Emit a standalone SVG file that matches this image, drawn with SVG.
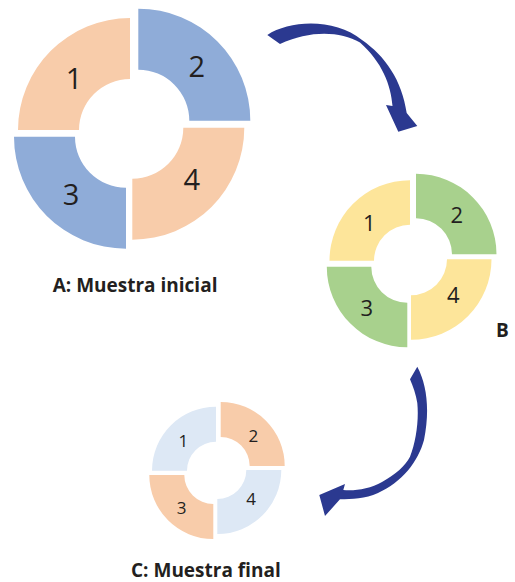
<svg xmlns="http://www.w3.org/2000/svg" width="515" height="582" viewBox="0 0 515 582">
<style>
.peach{fill:#F8CCAA}
.blue{fill:#8FACD8}
.yellow{fill:#FDE59A}
.green{fill:#A8D18D}
.lblue{fill:#DDE8F5}
.dig{font-family:"Open Sans","Noto Sans",sans-serif;font-weight:400;fill:#231F20;text-anchor:middle}
.dA{font-size:29px}
.dB{font-size:22px}
.dC{font-size:17px}
.lbl{font-family:"Open Sans","Noto Sans",sans-serif;font-weight:700;font-size:19px;fill:#231F20}
.arrow{fill:#2B3990}
</style>
<defs>
<path id="a1" d="M-112,0 A112,112 0 0 1 0,-112 L0,-51 A51,51 0 0 0 -51,0 Z"/>
<path id="a2" d="M0,-112 A112,112 0 0 1 112,0 L51,0 A51,51 0 0 0 0,-51 Z"/>
<path id="a3" d="M0,112 A112,112 0 0 1 -112,0 L-51,0 A51,51 0 0 0 0,51 Z"/>
<path id="a4" d="M112,0 A112,112 0 0 1 0,112 L0,51 A51,51 0 0 0 51,0 Z"/>
<path id="b1" d="M-80.5,0 A80.5,80.5 0 0 1 0,-80.5 L0,-36 A36,36 0 0 0 -36,0 Z"/>
<path id="b2" d="M0,-80.5 A80.5,80.5 0 0 1 80.5,0 L36,0 A36,36 0 0 0 0,-36 Z"/>
<path id="b3" d="M0,80.5 A80.5,80.5 0 0 1 -80.5,0 L-36,0 A36,36 0 0 0 0,36 Z"/>
<path id="b4" d="M80.5,0 A80.5,80.5 0 0 1 0,80.5 L0,36 A36,36 0 0 0 36,0 Z"/>
<path id="c1" d="M-64,0 A64,64 0 0 1 0,-64 L0,-29 A29,29 0 0 0 -29,0 Z"/>
<path id="c2" d="M0,-64 A64,64 0 0 1 64,0 L29,0 A29,29 0 0 0 0,-29 Z"/>
<path id="c3" d="M0,64 A64,64 0 0 1 -64,0 L-29,0 A29,29 0 0 0 0,29 Z"/>
<path id="c4" d="M64,0 A64,64 0 0 1 0,64 L0,29 A29,29 0 0 0 29,0 Z"/>
</defs>

<g id="ringA">
  <g id="A1"><use href="#a1" class="peach" transform="translate(130,130)"/><text class="dig dA" x="74" y="89.3">1</text></g>
  <g id="A2"><use href="#a2" class="blue" transform="translate(138.3,120.7)"/><text class="dig dA" x="196.7" y="76.7">2</text></g>
  <g id="A3"><use href="#a3" class="blue" transform="translate(126,136.7)"/><text class="dig dA" x="71" y="205">3</text></g>
  <g id="A4"><use href="#a4" class="peach" transform="translate(132.3,127.7)"/><text class="dig dA" x="191.7" y="190">4</text></g>
  <text id="labelA" class="lbl" x="52.7" y="292.3">A: Muestra inicial</text>
</g>

<g id="ringB">
  <g id="B1"><use href="#b1" class="yellow" transform="translate(410,260.7)"/><text class="dig dB" x="369.3" y="230.7">1</text></g>
  <g id="B2"><use href="#b2" class="green" transform="translate(416,254.3)"/><text class="dig dB" x="456.7" y="223.3">2</text></g>
  <g id="B3"><use href="#b3" class="green" transform="translate(407.3,266.7)"/><text class="dig dB" x="366.7" y="315.7">3</text></g>
  <g id="B4"><use href="#b4" class="yellow" transform="translate(411,259.3)"/><text class="dig dB" x="453.3" y="303.3">4</text></g>
  <text id="labelB" class="lbl" x="496" y="336.7">B</text>
</g>

<g id="ringC">
  <g id="C1"><use href="#c1" class="lblue" transform="translate(216,470.7)"/><text class="dig dC" x="183.3" y="447.3">1</text></g>
  <g id="C2"><use href="#c2" class="peach" transform="translate(220.7,466)"/><text class="dig dC" x="253.3" y="441.7">2</text></g>
  <g id="C3"><use href="#c3" class="peach" transform="translate(213.3,475)"/><text class="dig dC" x="181.7" y="514">3</text></g>
  <g id="C4"><use href="#c4" class="lblue" transform="translate(217.3,470)"/><text class="dig dC" x="251" y="505">4</text></g>
  <text id="labelC" class="lbl" x="131" y="576.7">C: Muestra final</text>
</g>

<g id="connectors">
  <path id="arrowAB" class="arrow" d="M267.3,35 C290,20 335,18 362,40 C385,56 402,80 406.7,113 L417.3,126 L398.3,131.7 L386,105 L392.5,106 C391,85 382,62 360,42.5 C340,31 310,30 280,44 Z"/>
  <path id="arrowBC" class="arrow" d="M417.3,366.7 C427,385 430,410 424,440 C418,462 402,482 378,493 C365,499 352,499 340,499.3 L325,516 L319.3,495 L345,484 L343.3,490 C355,491 370,489 382,482 C396,474 405,466 410,456.7 C416,442 419,420 417.3,403 C416,395 413,386 410,379.3 Z"/>
</g>
</svg>
